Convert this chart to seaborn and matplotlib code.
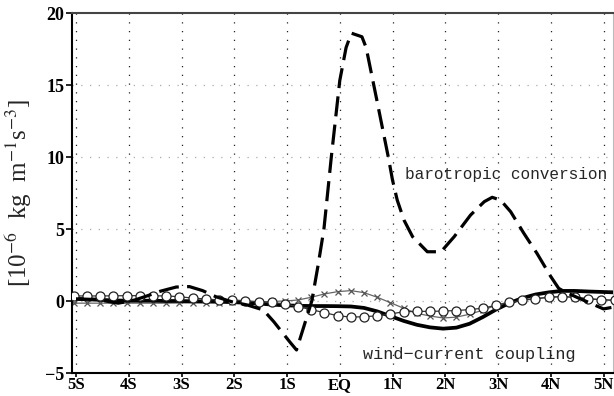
import numpy as np
import pandas as pd
import matplotlib
matplotlib.use("Agg")
import matplotlib.pyplot as plt
import seaborn as sns

# ---- data ----
xtick_pos = [-5, -4, -3, -2, -1, 0, 1, 2, 3, 4, 5]
xtick_labels = ["5S", "4S", "3S", "2S", "1S", "EQ", "1N", "2N", "3N", "4N", "5N"]
ytick_pos = [-5, 0, 5, 10, 15, 20]
ytick_labels = ["\u22125", "0", "5", "10", "15", "20"]

# barotropic conversion (dashed)
baro_lat = [-5.0, -4.6, -4.2, -3.9, -3.6, -3.4, -3.1, -2.85, -2.6, -2.35, -2.05,
            -1.75, -1.45, -1.25, -0.95, -0.82, -0.7, -0.53, -0.41, -0.30, -0.16,
            0.0, 0.12, 0.22, 0.42, 0.5, 0.7, 0.92, 1.0, 1.09, 1.22, 1.38, 1.66,
            1.92, 2.17, 2.48, 2.74, 2.89, 3.05, 3.24, 3.49, 3.74, 4.0, 4.15, 4.26,
            4.5, 4.75, 5.0, 5.15]
baro_val = [0.15, 0.1, -0.15, 0.05, 0.42, 0.68, 0.97, 1.0, 0.72, 0.3, -0.05,
            -0.28, -0.62, -1.44, -2.83, -3.4, -2.0, 0.0, 2.5, 5.0, 10.0,
            15.3, 17.6, 18.6, 18.35, 17.6, 14.0, 10.0, 8.4, 7.0, 5.6, 4.47, 3.42,
            3.42, 4.47, 5.97, 6.9, 7.2, 7.0, 6.2, 4.7, 3.3, 1.7, 0.88, 0.65,
            0.25, -0.15, -0.55, -0.45]

# common latitude grid for the other three curves
grid_lat = list(np.round(np.arange(-5.04, 5.3, 0.25), 2))

# wind-current coupling (thick solid)
coupling_val = [0.15, 0.12, 0.08, 0.04, 0.02, 0.02, 0.02, 0.0, 0.0, -0.02, -0.03,
                -0.05, -0.08, -0.12, -0.17, -0.25, -0.3, -0.33, -0.35, -0.35, -0.36,
                -0.38, -0.48, -0.72, -1.05, -1.38, -1.65, -1.83, -1.92, -1.85, -1.58,
                -1.12, -0.6, -0.15, 0.2, 0.45, 0.6, 0.7, 0.7, 0.66, 0.63, 0.6]

# open-circle curve
circle_val = [0.35, 0.35, 0.35, 0.36, 0.37, 0.37, 0.36, 0.35, 0.3, 0.2, 0.14,
              0.07, 0.07, 0.02, -0.05, -0.1, -0.2, -0.4, -0.6, -0.81, -1.02,
              -1.12, -1.09, -1.03, -0.9, -0.75, -0.72, -0.72, -0.7, -0.66, -0.6,
              -0.5, -0.3, -0.1, 0.05, 0.15, 0.25, 0.3, 0.25, 0.15, 0.08, 0.05]

# cross curve
cross_val = [-0.15, -0.15, -0.15, -0.15, -0.15, -0.15, -0.15, -0.15, -0.14, -0.13, -0.12,
             -0.11, -0.1, -0.1, -0.07, -0.03, 0.0, 0.07, 0.26, 0.49, 0.65,
             0.72, 0.58, 0.26, -0.12, -0.5, -0.86, -1.04, -1.18, -1.12, -0.92,
             -0.64, -0.3, -0.06, 0.08, 0.18, 0.27, 0.32, 0.27, 0.17, 0.1, 0.05]

baro_df = pd.DataFrame({"lat": baro_lat, "val": baro_val})
grid_df = pd.DataFrame({"lat": grid_lat, "coupling": coupling_val,
                        "circle": circle_val, "cross": cross_val})

# ---- style ----
sns.set_theme(style="ticks")
plt.rcParams["font.family"] = ["Liberation Serif", "DejaVu Serif"]
plt.rcParams["mathtext.fontset"] = "stix"

fig = plt.figure(figsize=(6.14, 3.96), dpi=100)
ax = fig.add_axes([72 / 614, (396 - 373) / 396, (613 - 72) / 614, (373 - 13) / 396])

# grid lines
for xv in xtick_pos:
    ax.axvline(xv, color="#222222", lw=0.9, ls=(0, (1, 6)), zorder=0)
for yv in ytick_pos[1:-1]:
    ax.axhline(yv, color="#aaaaaa", lw=0.9, ls=(0, (1, 6)), zorder=0)

sns.lineplot(data=grid_df, x="lat", y="cross", ax=ax, color="#666666", lw=0.9,
             marker="x", markersize=5, markeredgewidth=0.9, markeredgecolor="#555555",
             errorbar=None, zorder=2)
sns.lineplot(data=grid_df, x="lat", y="coupling", ax=ax, color="black", lw=2.7,
             errorbar=None, zorder=3)
sns.lineplot(data=grid_df, x="lat", y="circle", ax=ax, color="#333333", lw=0.9,
             marker="o", markersize=6.5, markerfacecolor="white",
             markeredgecolor="#222222", markeredgewidth=0.9, errorbar=None, zorder=4)
sns.lineplot(data=baro_df, x="lat", y="val", ax=ax, color="black", lw=2.3,
             linestyle=(0, (6.3, 2.6)), errorbar=None, zorder=5)

ax.set_xlim(-5.076, 5.18)
ax.set_ylim(-5, 20)
ax.set_xticks(xtick_pos)
ax.set_xticklabels(xtick_labels)
ax.set_yticks(ytick_pos)
ax.set_yticklabels(ytick_labels)
ax.tick_params(axis="y", direction="out", length=4, width=1.2, pad=1.5,
               labelsize=13, colors="black")
ax.tick_params(axis="x", direction="out", length=3, width=1.2, pad=0,
               labelsize=12, colors="black")
for lab in ax.get_xticklabels() + ax.get_yticklabels():
    lab.set_fontweight("bold")

ax.set_xlabel("")
ax.set_ylabel(r"[10$^{-6}$  kg  m$^{-1}$s$^{-3}$]", fontsize=18)
ax.yaxis.set_label_coords(-0.07, 0.5)

for side in ["left", "bottom"]:
    ax.spines[side].set_linewidth(1.5)
    ax.spines[side].set_color("black")
ax.spines["top"].set_linewidth(1.5)
ax.spines["top"].set_color("#444444")
ax.spines["right"].set_linewidth(0.8)
ax.spines["right"].set_color("#bbbbbb")

ax.text(1.24, 8.8, "barotropic conversion", family=["Liberation Mono", "DejaVu Sans Mono"],
        fontsize=11.6, va="center", ha="left")
ax.text(0.44, -3.75, "wind\u2212current coupling", family=["Liberation Mono", "DejaVu Sans Mono"],
        fontsize=12.2, va="center", ha="left")

fig.savefig("out.png", dpi=100)
